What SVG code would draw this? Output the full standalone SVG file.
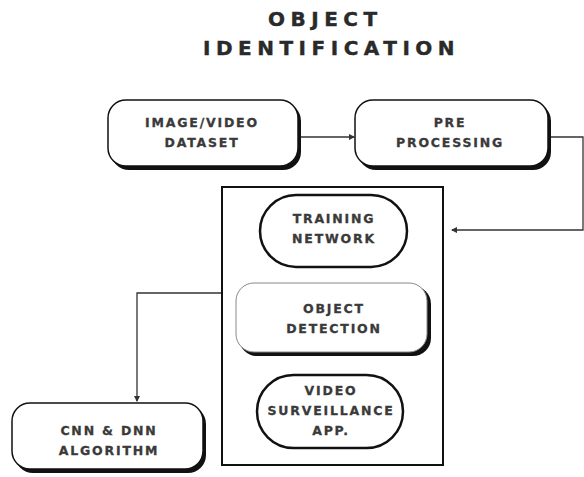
<svg xmlns="http://www.w3.org/2000/svg" width="584" height="477" viewBox="0 0 584 477">
<style>
.title{font-family:"DejaVu Sans","Liberation Sans",sans-serif;font-weight:bold;font-size:20px;letter-spacing:5.5px;fill:#2a2a2a;stroke:#2a2a2a;stroke-width:0.4}
.lbl{font-family:"DejaVu Sans","Liberation Sans",sans-serif;font-weight:bold;font-size:12.5px;letter-spacing:1.8px;fill:#3a3a3a;stroke:#3a3a3a;stroke-width:0.3;text-anchor:middle}
.box{fill:#fff;stroke:#111;stroke-width:1.5}
.shadow{fill:#111}
.pill{fill:#fff;stroke:#111;stroke-width:2.5}
.conn{fill:none;stroke:#333;stroke-width:1.3}
</style>
<defs>
<marker id="ah" viewBox="0 0 6 6" refX="5" refY="3" markerWidth="5" markerHeight="5" orient="auto">
<path d="M0,0 L6,3 L0,6 z" fill="#333"/>
</marker>
</defs>
<rect width="584" height="477" fill="#fff"/>
<g id="title">
<text class="title" x="268" y="26">OBJECT</text>
<text class="title" x="203" y="55">IDENTIFICATION</text>
</g>
<g id="connectors">
<path class="conn" d="M301,137 H354" marker-end="url(#ah)"/>
<path class="conn" d="M551,137 H583 V230 H452" marker-end="url(#ah)"/>
<path class="conn" d="M222,293 H137 V401" marker-end="url(#ah)"/>
</g>
<g id="dataset">
<rect class="shadow" x="111" y="103" width="190" height="67" rx="18"/>
<rect class="box" x="108" y="100" width="190" height="66" rx="18"/>
<text class="lbl" x="202" y="127">IMAGE/VIDEO</text>
<text class="lbl" x="202" y="147">DATASET</text>
</g>
<g id="preprocessing">
<rect class="shadow" x="358" y="103" width="193" height="67" rx="18"/>
<rect class="box" x="355" y="100" width="193" height="66" rx="18"/>
<text class="lbl" x="450" y="127">PRE</text>
<text class="lbl" x="450" y="147">PROCESSING</text>
</g>
<g id="container">
<rect x="222" y="187" width="221" height="278" fill="none" stroke="#111" stroke-width="2"/>
</g>
<g id="training">
<rect class="pill" x="260" y="195" width="147" height="72" rx="36"/>
<text class="lbl" x="334" y="223">TRAINING</text>
<text class="lbl" x="334" y="243">NETWORK</text>
</g>
<g id="detection">
<rect class="shadow" x="239" y="286" width="192" height="70" rx="18"/>
<rect x="236" y="283" width="191" height="69" rx="18" fill="#fff" stroke="#888" stroke-width="1"/>
<text class="lbl" x="334" y="313">OBJECT</text>
<text class="lbl" x="334" y="333">DETECTION</text>
</g>
<g id="surveillance">
<rect class="pill" x="257" y="375" width="146" height="73" rx="36.5"/>
<text class="lbl" x="331" y="395">VIDEO</text>
<text class="lbl" x="331" y="415">SURVEILLANCE</text>
<text class="lbl" x="331" y="435">APP.</text>
</g>
<g id="cnn">
<rect class="shadow" x="15" y="406" width="191" height="67" rx="18"/>
<rect class="box" x="12" y="403" width="191" height="66" rx="18"/>
<text class="lbl" x="109" y="435">CNN &amp; DNN</text>
<text class="lbl" x="109" y="455">ALGORITHM</text>
</g>
</svg>
